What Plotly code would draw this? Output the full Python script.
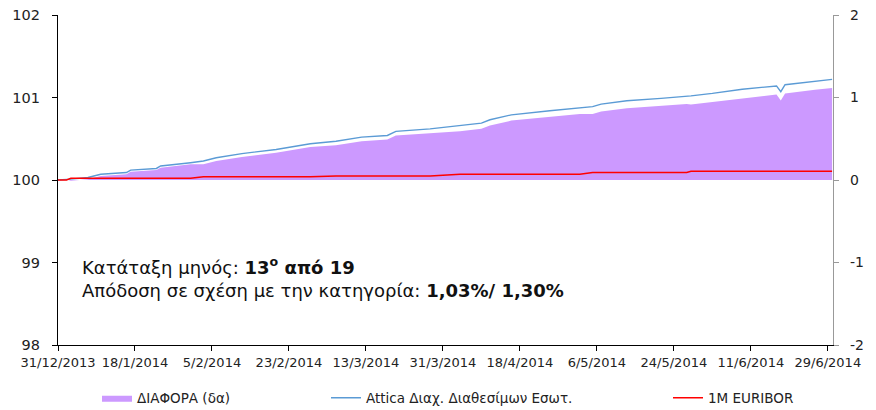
import plotly.graph_objects as go

dates = [
    "2013-12-31", "2014-01-02", "2014-01-03", "2014-01-07", "2014-01-10",
    "2014-01-16", "2014-01-17", "2014-01-23", "2014-01-24", "2014-01-31",
    "2014-02-03", "2014-02-06", "2014-02-12", "2014-02-20", "2014-02-28",
    "2014-03-06", "2014-03-12", "2014-03-18", "2014-03-20", "2014-03-28",
    "2014-04-04", "2014-04-09", "2014-04-11", "2014-04-16", "2014-04-25",
    "2014-05-02", "2014-05-05", "2014-05-07", "2014-05-13", "2014-05-21",
    "2014-05-27", "2014-05-28", "2014-06-02", "2014-06-09", "2014-06-17",
    "2014-06-18", "2014-06-19", "2014-06-26", "2014-06-30",
]
fund = [
    100.00, 100.005, 100.01, 100.03, 100.07,
    100.09, 100.12, 100.14, 100.17, 100.21,
    100.23, 100.27, 100.32, 100.37, 100.44,
    100.47, 100.52, 100.54, 100.59, 100.62,
    100.66, 100.69, 100.73, 100.79, 100.84,
    100.87, 100.89, 100.92, 100.96, 100.99,
    101.01, 101.02, 101.05, 101.10, 101.14,
    101.07, 101.155, 101.20, 101.22,
]
euribor = [
    100.00, 100.00, 100.02, 100.02, 100.02,
    100.02, 100.02, 100.02, 100.02, 100.02,
    100.04, 100.04, 100.04, 100.04, 100.04,
    100.05, 100.05, 100.05, 100.05, 100.05,
    100.07, 100.07, 100.07, 100.07, 100.07,
    100.07, 100.09, 100.09, 100.09, 100.09,
    100.09, 100.105, 100.105, 100.105, 100.105,
    100.105, 100.105, 100.105, 100.105,
]
diff = [round(f - e, 4) for f, e in zip(fund, euribor)]

left_ticks = [98, 99, 100, 101, 102]
right_ticks = [-2, -1, 0, 1, 2]
right_labels = ["-2", "-1", "0", "1", "2"]

name_diff = "ΔΙΑΦΟΡΑ (δα)"
name_fund = "Attica Διαχ. Διαθεσίμων Εσωτ."
name_eur = "1M EURIBOR"

FONT = "DejaVu Sans"
W, H = 868, 402  # page has an 8px body margin

fig = go.Figure()
# area on the right-hand axis (yaxis, drawn first / underneath)
fig.add_trace(go.Scatter(
    x=dates, y=diff, name=name_diff, yaxis="y", mode="lines",
    fill="tozeroy", fillcolor="#cc99ff", line=dict(width=0, color="#cc99ff"),
    legend="legend", showlegend=True,
))
# lines on the left-hand axis (yaxis2, drawn on top)
fig.add_trace(go.Scatter(
    x=dates, y=fund, name=name_fund, yaxis="y2", mode="lines",
    line=dict(color="#5b9bd5", width=1.4), legend="legend2", showlegend=True,
))
fig.add_trace(go.Scatter(
    x=dates, y=euribor, name=name_eur, yaxis="y2", mode="lines",
    line=dict(color="#ff0000", width=1.5), legend="legend3", showlegend=True,
))

leg_common = dict(orientation="h", yanchor="middle", xanchor="left",
                  xref="container", yref="container",
                  font=dict(family=FONT, size=13.5, color="#222"),
                  bgcolor="rgba(0,0,0,0)", borderwidth=0)

fig.update_layout(
    width=W, height=H,
    margin=dict(l=50, r=43, t=7, b=65, autoexpand=False),
    plot_bgcolor="white", paper_bgcolor="white",
    font=dict(family=FONT, color="#222"),
    showlegend=True,
    xaxis=dict(
        type="date",
        range=["2013-12-31", "2014-06-30 05:00"],
        tick0="2013-12-31", dtick=18 * 86400000,
        tickformat="%-d/%-m/%Y",
        showgrid=False, zeroline=False,
        showline=True, linecolor="#000", linewidth=1.2,
        ticks="outside", ticklen=5, tickcolor="#000",
        tickfont=dict(family=FONT, size=13, color="#222"),
        ticklabeloverflow="allow",
    ),
    yaxis=dict(
        range=[-2, 2], tickvals=right_ticks, ticktext=right_labels, side="right",
        showgrid=False, zeroline=False,
        showline=True, linecolor="#999", linewidth=1.2,
        ticks="outside", ticklen=5, tickcolor="#999",
        tickfont=dict(family=FONT, size=14, color="#222"),
        ticklabelstandoff=8, ticklabeloverflow="allow",
    ),
    yaxis2=dict(
        range=[98, 102], tickvals=left_ticks, overlaying="y", side="left",
        showgrid=False, zeroline=False,
        showline=True, linecolor="#000", linewidth=1.2,
        ticks="outside", ticklen=5, tickcolor="#000",
        tickfont=dict(family=FONT, size=14.5, color="#222"),
        ticklabelstandoff=9, ticklabeloverflow="allow",
    ),
    legend=dict(x=89 / W, y=12 / H, **leg_common),
    legend2=dict(x=318 / W, y=12 / H, **leg_common),
    legend3=dict(x=660 / W, y=12 / H, **leg_common),
    annotations=[
        dict(xref="paper", yref="paper", x=22 / 775, y=(330 - 251) / 330,
             xanchor="left", yanchor="middle", showarrow=False, align="left",
             text="Κατάταξη μηνός: <b>13<sup>o</sup> από 19</b>",
             font=dict(family=FONT, size=18, color="#111")),
        dict(xref="paper", yref="paper", x=22 / 775, y=(330 - 275) / 330,
             xanchor="left", yanchor="middle", showarrow=False, align="left",
             text="Απόδοση σε σχέση με την κατηγορία: <b>1,03%/ 1,30%</b>",
             font=dict(family=FONT, size=18, color="#111")),
    ],
)

fig.write_html("out.html")
